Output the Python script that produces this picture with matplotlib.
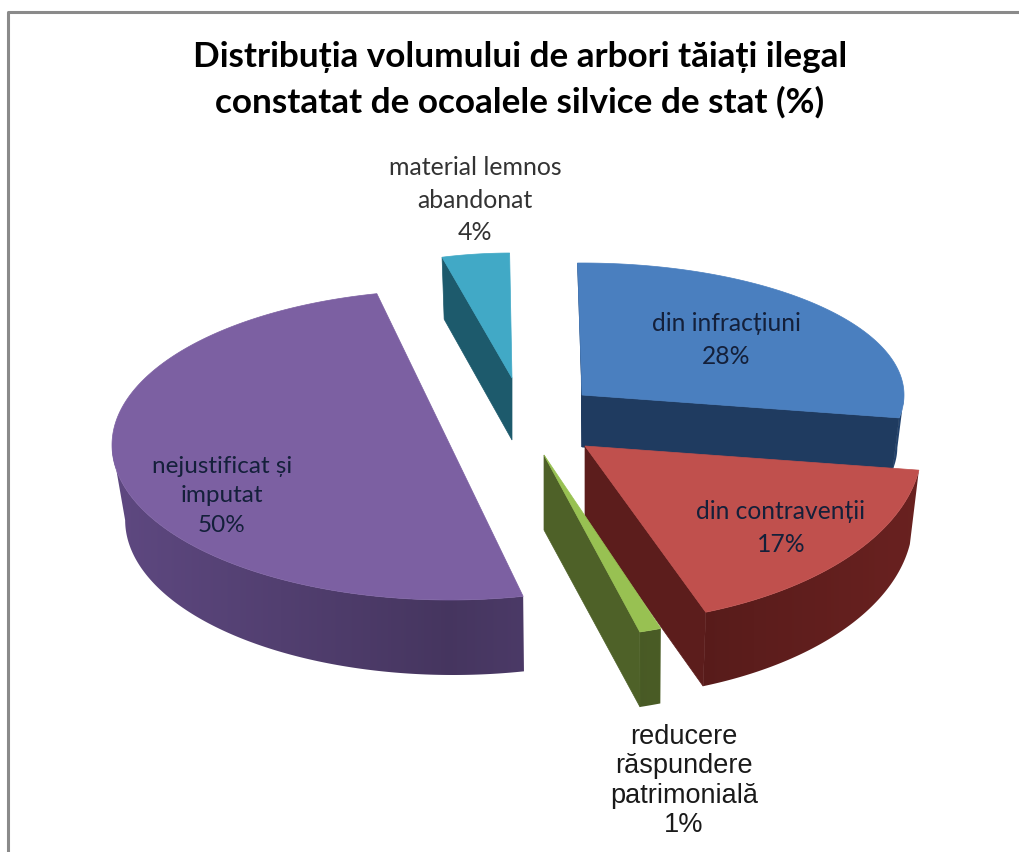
import matplotlib
matplotlib.use("Agg")
import matplotlib.pyplot as plt
import numpy as np
from matplotlib.colors import to_rgb
from matplotlib.patches import Polygon

title_lines = ["Distribuția volumului de arbori tăiați ilegal",
               "constatat de ocoalele silvice de stat (%)"]
names = ["din infracțiuni", "din contravenții", "reducere\nrăspundere\npatrimonială",
         "nejustificat și\nimputat", "material lemnos\nabandonat"]
values = [28, 17, 1, 50, 4]

top_colors = ["#4a7fbf", "#c0504d", "#98c152", "#7c60a2", "#41a9c6"]
side_colors = ["#1f3b60", "#5c1d1c", "#4e6128", "#523f70", "#1d5a6c"]

# layout of each slice in pixels (the chart has a faked 3d look, so every slice gets its own)
apex_x = [582, 585, 544, 450, 512]
apex_y = [395, 446, 455, 445, 378]
radius_x = [322, 337, 350, 338, 272]
radius_y = [132, 178, 184, 155, 125]
depth = [52, 74, 75, 75, 62]
wall_dx = [3, 1, 3, 3, 0]
angle_shift = [-0.7, 1.5, 0, -3.4, -1]
label_x = [726, 781, 684, 222, 475]
label_y = [340, 528, 781, 496, 200]
label_size = [17.7, 17.7, 19.5, 17.5, 17.9]
label_spacing = [1.54, 1.54, 1.16, 1.5, 1.48]
START = 91.5
TAPER = 0.97


def arc(cx, cy, rx, ry, a):
    a = np.radians(a)
    return cx + rx * np.cos(a), cy - ry * np.sin(a)


def draw_wall(ax, i, angles):
    cx, cy, rx, ry, d = apex_x[i], apex_y[i], radius_x[i], radius_y[i], depth[i]
    angles = angles[np.sin(np.radians(angles)) <= 0]
    if len(angles) < 2:
        return
    x, y = arc(cx, cy, rx, ry, angles)
    xb, yb = arc(cx + wall_dx[i], cy, rx * TAPER, ry, angles)
    px = np.r_[x, xb[::-1]]
    py = np.r_[y, yb[::-1] + d]

    # shade the wall from the middle of the pie to its sides
    xs = np.linspace(px.min(), px.max(), 200)
    shade = 0.85 + 0.3 * np.abs(xs - cx) / rx
    grad = np.clip(np.outer(shade, to_rgb(side_colors[i])), 0, 1)[None, :, :]
    im = ax.imshow(grad, extent=[xs[0], xs[-1], py.max(), py.min()], aspect="auto",
                   interpolation="bilinear")
    poly = Polygon(np.c_[px, py], closed=True, fc="none", ec="none", transform=ax.transData)
    ax.add_patch(poly)
    im.set_clip_path(poly)


def draw_slice(ax, i, a1, a2):
    cx, cy, rx, ry, d = apex_x[i], apex_y[i], radius_x[i], radius_y[i], depth[i]

    # cut faces first, only those turned to the viewer
    for a, visible in ((a1, np.cos(np.radians(a1)) < 0), (a2, np.cos(np.radians(a2)) > 0)):
        if visible:
            x, y = arc(cx, cy, rx, ry, a)
            xb, yb = arc(cx + wall_dx[i], cy, rx * TAPER, ry, a)
            ax.fill([cx, x, xb, cx], [cy, y, yb + d, cy + d],
                    color=side_colors[i], lw=0.5)

    angles = np.linspace(a1, a2, 240)
    draw_wall(ax, i, angles)

    # top surface
    x, y = arc(cx, cy, rx, ry, angles)
    ax.fill(np.r_[cx, x], np.r_[cy, y], color=top_colors[i], lw=0.5)


fig = plt.figure(figsize=(10.2, 8.52), dpi=100)
ax = fig.add_axes([0, 0, 1, 1])
ax.axis("off")

ax.plot([8.5, 8.5, 1020], [852, 11.5, 11.5], color="#8a8a8a", lw=2.2)

sweep = np.array(values) / sum(values) * 360
edges = START - np.r_[0, np.cumsum(sweep)]
for i in [4, 0, 3, 1, 2]:
    draw_slice(ax, i, edges[i] + angle_shift[i], edges[i + 1] + angle_shift[i])

ax.set_xlim(0, 1020)
ax.set_ylim(852, 0)

for i, name in enumerate(names):
    font = "Liberation Sans" if i == 2 else "Lato"
    color = "#1a1a1a" if i == 2 else "#333333" if i == 4 else "#14203a"
    ax.text(label_x[i], label_y[i], f"{name}\n{values[i]}%", ha="center", va="center",
            fontsize=label_size[i], family=font, color=color, linespacing=label_spacing[i])

ax.text(520, 57, title_lines[0], ha="center", va="center", fontsize=25.3,
        family="Lato", weight="bold", color="black")
ax.text(520, 102, title_lines[1], ha="center", va="center", fontsize=25.3,
        family="Lato", weight="bold", color="black")

fig.savefig("out.png", dpi=100)
